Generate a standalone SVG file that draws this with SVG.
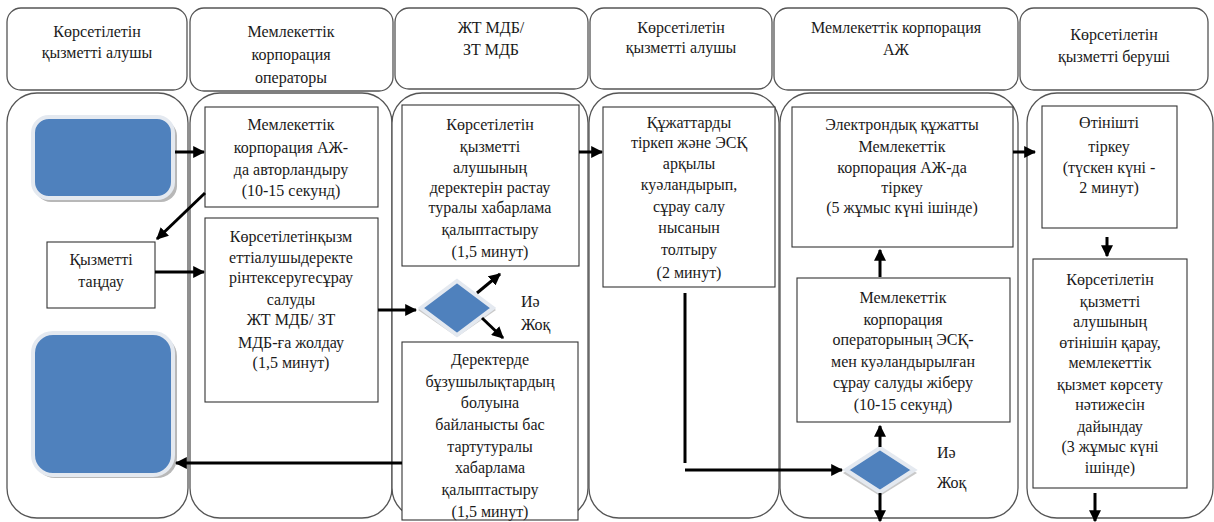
<svg xmlns="http://www.w3.org/2000/svg" width="1214" height="522" viewBox="0 0 1214 522">
<defs>
<style>
.hdr{fill:#fff;stroke:#555;stroke-width:1.3}
.lane{fill:#fff;stroke:#555;stroke-width:1.3}
.box{fill:#fff;stroke:#333;stroke-width:1.1}
text{font-family:"Liberation Serif",Tinos,"Times New Roman","Noto Serif","DejaVu Serif",serif;font-size:16px;fill:#1a1a1a}
.t{text-anchor:middle}
.blue{fill:#4F81BD;stroke:#e4e9f0;stroke-width:4}
.shadow{fill:#b8b8b8}
.c{stroke:#000;stroke-width:3;fill:none}
.ca{stroke:#000;stroke-width:3;fill:none;marker-end:url(#ah)}
</style>
<marker id="ah" viewBox="0 0 10 10" refX="9" refY="5" markerWidth="4" markerHeight="4" orient="auto" markerUnits="strokeWidth">
<path d="M0,0 L10,5 L0,10 z" fill="#000"/>
</marker>
</defs>

<g id="headers">
<rect class="hdr" x="7" y="8" width="180" height="82" rx="14"/>
<text class="t" x="97" y="37">Көрсетілетін</text>
<text class="t" x="97" y="58">қызметті алушы</text>
<rect class="hdr" x="190" y="8" width="203" height="83" rx="14"/>
<text class="t" x="291" y="37">Мемлекеттік</text>
<text class="t" x="291" y="60">корпорация</text>
<text class="t" x="291" y="83">операторы</text>
<rect class="hdr" x="395" y="8" width="193" height="81" rx="14"/>
<text class="t" x="491" y="33">ЖТ МДБ/</text>
<text class="t" x="491" y="55">ЗТ МДБ</text>
<rect class="hdr" x="590" y="8" width="182" height="81" rx="14"/>
<text class="t" x="681" y="33">Көрсетілетін</text>
<text class="t" x="681" y="53">қызметті алушы</text>
<rect class="hdr" x="774" y="8" width="244" height="82" rx="14"/>
<text class="t" x="896" y="33">Мемлекеттік корпорация</text>
<text class="t" x="896" y="55">АЖ</text>
<rect class="hdr" x="1020" y="8" width="188" height="82" rx="14"/>
<text class="t" x="1114" y="40">Көрсетілетін</text>
<text class="t" x="1114" y="62">қызметті беруші</text>
</g>

<g id="lanes">
<rect class="lane" x="7" y="93" width="181" height="425" rx="30"/>
<rect class="lane" x="190" y="93" width="202" height="425" rx="30"/>
<rect class="lane" x="392" y="93" width="196" height="425" rx="30"/>
<rect class="lane" x="589" y="93" width="190" height="425" rx="30"/>
<rect class="lane" x="780" y="93" width="238" height="425" rx="30"/>
<rect class="lane" x="1027" y="93" width="186" height="425" rx="30"/>
</g>

<g id="start">
<rect class="shadow" x="35" y="120" width="142" height="82" rx="16"/>
<rect class="blue" x="33" y="117" width="140" height="81" rx="16"/>
</g>

<g id="end">
<rect class="shadow" x="35" y="336" width="142" height="142" rx="20"/>
<rect class="blue" x="33" y="333" width="140" height="142" rx="20"/>
</g>

<g id="choose">
<rect class="box" x="47" y="242" width="108" height="66"/>
<text class="t" x="101" y="265">Қызметті</text>
<text class="t" x="101" y="287">таңдау</text>
</g>

<g id="auth">
<rect class="box" x="205" y="107" width="173" height="100"/>
<text class="t" x="291" y="130">Мемлекеттік</text>
<text class="t" x="291" y="153">корпорация АЖ-</text>
<text class="t" x="291" y="175">да авторландыру</text>
<text class="t" x="291" y="196">(10-15 секунд)</text>
</g>

<g id="send-request">
<rect class="box" x="205" y="218" width="173" height="184"/>
<text class="t" x="291" y="242">Көрсетілетінқызм</text>
<text class="t" x="291" y="263">еттіалушыдеректе</text>
<text class="t" x="291" y="283">рінтексеругесұрау</text>
<text class="t" x="291" y="305">салуды</text>
<text class="t" x="291" y="325">ЖТ МДБ/ ЗТ</text>
<text class="t" x="291" y="348">МДБ-ға жолдау</text>
<text class="t" x="291" y="368">(1,5 минут)</text>
</g>

<g id="confirm">
<rect class="box" x="402" y="105" width="177" height="161"/>
<text class="t" x="490" y="130">Көрсетілетін</text>
<text class="t" x="490" y="152">қызметті</text>
<text class="t" x="490" y="173">алушының</text>
<text class="t" x="490" y="193">деректерін растау</text>
<text class="t" x="490" y="213">туралы хабарлама</text>
<text class="t" x="490" y="235">қалыптастыру</text>
<text class="t" x="490" y="257">(1,5 минут)</text>
</g>

<g id="decision1">
<polygon points="457,283 496,310 457,337 418,310" fill="#c9c9c9"/>
<polygon points="457,281 493,308 457,335 421,308" fill="#4F81BD" stroke="#e4e9f0" stroke-width="4"/>
<text x="521" y="307">Иә</text>
<text x="521" y="330">Жоқ</text>
</g>

<g id="refuse">
<rect class="box" x="402" y="342" width="176" height="178"/>
<text class="t" x="490" y="365">Деректерде</text>
<text class="t" x="490" y="387">бұзушылықтардың</text>
<text class="t" x="490" y="408">болуына</text>
<text class="t" x="490" y="430">байланысты бас</text>
<text class="t" x="490" y="452">тартутуралы</text>
<text class="t" x="490" y="473">хабарлама</text>
<text class="t" x="490" y="495">қалыптастыру</text>
<text class="t" x="490" y="517">(1,5 минут)</text>
</g>

<g id="fill-form">
<rect class="box" x="603" y="107" width="172" height="180"/>
<text class="t" x="689" y="128">Құжаттарды</text>
<text class="t" x="689" y="148">тіркеп және ЭСҚ</text>
<text class="t" x="689" y="169">арқылы</text>
<text class="t" x="689" y="190">куәландырып,</text>
<text class="t" x="689" y="212">сұрау салу</text>
<text class="t" x="689" y="233">нысанын</text>
<text class="t" x="689" y="255">толтыру</text>
<text class="t" x="689" y="278">(2 минут)</text>
</g>

<g id="register-doc">
<rect class="box" x="792" y="107" width="221" height="140"/>
<text class="t" x="902" y="130">Электрондық құжатты</text>
<text class="t" x="902" y="152">Мемлекеттік</text>
<text class="t" x="902" y="173">корпорация АЖ-да</text>
<text class="t" x="902" y="193">тіркеу</text>
<text class="t" x="902" y="213">(5 жұмыс күні ішінде)</text>
</g>

<g id="operator-send">
<rect class="box" x="797" y="278" width="213" height="144"/>
<text class="t" x="903" y="303">Мемлекеттік</text>
<text class="t" x="903" y="325">корпорация</text>
<text class="t" x="903" y="345">операторының ЭСҚ-</text>
<text class="t" x="903" y="367">мен куәландырылған</text>
<text class="t" x="903" y="388">сұрау салуды жіберу</text>
<text class="t" x="903" y="410">(10-15 секунд)</text>
</g>

<g id="decision2">
<polygon points="880,450 917,473 880,496 843,473" fill="#c9c9c9"/>
<polygon points="880,448 914,470 880,492 846,470" fill="#4F81BD" stroke="#e4e9f0" stroke-width="4"/>
<text x="937" y="458">Иә</text>
<text x="937" y="488">Жоқ</text>
</g>

<g id="register-app">
<rect class="box" x="1042" y="106" width="135" height="122"/>
<text class="t" x="1109" y="128">Өтінішті</text>
<text class="t" x="1109" y="152">тіркеу</text>
<text class="t" x="1109" y="173">(түскен күні -</text>
<text class="t" x="1109" y="193">2 минут)</text>
</g>

<g id="review">
<rect class="box" x="1033" y="259" width="154" height="229"/>
<text class="t" x="1110" y="285">Көрсетілетін</text>
<text class="t" x="1110" y="307">қызметті</text>
<text class="t" x="1110" y="327">алушының</text>
<text class="t" x="1110" y="348">өтінішін қарау,</text>
<text class="t" x="1110" y="368">мемлекеттік</text>
<text class="t" x="1110" y="390">қызмет көрсету</text>
<text class="t" x="1110" y="410">нәтижесін</text>
<text class="t" x="1110" y="432">дайындау</text>
<text class="t" x="1110" y="452">(3 жұмыс күні</text>
<text class="t" x="1110" y="473">ішінде)</text>
</g>

<g id="connectors">
<line class="ca" x1="175" y1="152" x2="204" y2="152"/>
<line class="ca" x1="205" y1="193" x2="157" y2="239"/>
<line class="ca" x1="155" y1="272" x2="204" y2="272"/>
<line class="ca" x1="378" y1="310" x2="416" y2="310"/>
<line class="ca" x1="477" y1="293" x2="500" y2="274"/>
<line class="ca" x1="482" y1="318" x2="503" y2="338"/>
<line class="ca" x1="402" y1="463" x2="176" y2="463"/>
<line class="ca" x1="579" y1="152" x2="602" y2="152"/>
<line class="c" x1="685" y1="293" x2="685" y2="463"/>
<line class="ca" x1="685" y1="470" x2="842" y2="470"/>
<line class="ca" x1="880" y1="447" x2="880" y2="426"/>
<line class="ca" x1="880" y1="493" x2="880" y2="521"/>
<line class="ca" x1="880" y1="277" x2="880" y2="250"/>
<line class="ca" x1="1013" y1="152" x2="1035" y2="152"/>
<line class="ca" x1="1107" y1="237" x2="1107" y2="256"/>
<line class="ca" x1="1095" y1="493" x2="1095" y2="521"/>
</g>
</svg>
